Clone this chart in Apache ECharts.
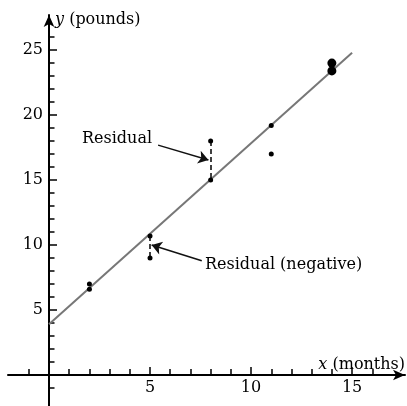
<!DOCTYPE html>
<html>
<head>
<meta charset="utf-8">
<script src="https://cdn.jsdelivr.net/npm/echarts@6/dist/echarts.min.js"></script>
<style>
  html, body { margin: 0; padding: 0; background: #fff; }
  #chart { width: 407px; height: 406px; }
</style>
</head>
<body>
<div id="chart"></div>
<script>
// observed points (months, pounds)
var pointX = [2, 2, 5, 5, 8, 8, 11, 11];
var pointY = [7.0, 6.6, 10.7, 9.0, 18.0, 15.0, 19.2, 17.0];
// the two heavier dots at 14 months
var bigX = [14, 14];
var bigY = [24.0, 23.4];
// least squares line end points
var fitX = [0, 15];
var fitY = [3.9, 24.8];
// residual segments: x, top, bottom
var residX = [8, 5];
var residTop = [18.0, 10.7];
var residBottom = [15.0, 9.0];
// annotation text and arrows
var noteText = ['Residual', 'Residual (negative)'];
var noteX = [5.1, 7.72];
var noteY = [18.2, 8.46];
var arrowFrom = [[5.40, 17.69], [7.56, 8.79]];
var arrowTo = [[7.89, 16.54], [5.08, 10.0]];
// ticks
var xLabels = [5, 10, 15];
var xMinor = [-1, 1, 2, 3, 4, 6, 7, 8, 9, 11, 12, 13, 14, 16];
var yLabels = [5, 10, 15, 20, 25];
var yMinor = [-1, 1, 2, 3, 4, 6, 7, 8, 9, 11, 12, 13, 14, 16, 17, 18, 19, 21, 22, 23, 24, 26];

var font = 'DejaVu Serif';
var X_MIN = -2.03, X_MAX = 17.62, Y_MIN = -2.385, Y_MAX = 27.7;
var chart = echarts.init(document.getElementById('chart'));

var zip = function (a, b) { return a.map(function (v, i) { return [v, b[i]]; }); };

var axisBase = function (min, max, pos) {
    return {
        type: 'value', min: min, max: max, position: pos,
        splitLine: { show: false },
        axisLine: { show: false, onZero: true },
        axisLabel: { show: false }
    };
};
var italic = { fontStyle: 'italic', fontSize: 16, fontFamily: font, color: '#000' };

// x axis: line, arrow, minor ticks, name
var xMain = axisBase(X_MIN, X_MAX, 'bottom');
xMain.axisLine = { show: true, onZero: true, symbol: ['none', 'arrow'], symbolSize: [8, 12],
    lineStyle: { color: '#000', width: 2 } };
xMain.axisTick = { show: true, inside: true, length: 6, customValues: xMinor, lineStyle: { color: '#000', width: 1.5 } };
xMain.name = '{i|x} (months)';
xMain.nameLocation = 'end';
xMain.nameGap = 0;
xMain.nameMoveOverlap = false;
xMain.nameTextStyle = { align: 'right', verticalAlign: 'bottom', padding: [0, 0, 1, 0], lineHeight: 18,
    color: '#000', fontSize: 16, fontFamily: font, rich: { i: italic } };

// x axis: major ticks
var xMajor = axisBase(X_MIN, X_MAX, 'bottom');
xMajor.axisTick = { show: true, inside: true, length: 8, customValues: xLabels, lineStyle: { color: '#000', width: 1.5 } };

// x axis: tick labels, moved up from the grid edge to the zero line
var xText = axisBase(X_MIN, X_MAX, 'bottom');
xText.axisLine = { show: false, onZero: false };
xText.offset = -31;
xText.axisTick = { show: false };
xText.axisLabel = { show: true, margin: 5, customValues: xLabels, color: '#000', fontSize: 16, fontFamily: font };

var yMain = axisBase(Y_MIN, Y_MAX, 'left');
yMain.axisLine = { show: true, onZero: true, symbol: ['none', 'arrow'], symbolSize: [8, 12],
    lineStyle: { color: '#000', width: 2 } };
yMain.axisTick = { show: true, inside: true, length: 5.5, customValues: yMinor, lineStyle: { color: '#000', width: 1.5 } };
yMain.name = '{i|y} (pounds)';
yMain.nameLocation = 'end';
yMain.nameGap = -5;
yMain.nameMoveOverlap = false;
yMain.nameTextStyle = { align: 'left', verticalAlign: 'middle', padding: [0, 0, 0, 6],
    color: '#000', fontSize: 16, fontFamily: font, rich: { i: italic } };

var yMajor = axisBase(Y_MIN, Y_MAX, 'left');
yMajor.axisTick = { show: true, inside: true, length: 8, customValues: yLabels, lineStyle: { color: '#000', width: 1.5 } };

var yText = axisBase(Y_MIN, Y_MAX, 'left');
yText.axisLine = { show: false, onZero: false };
yText.offset = -41;
yText.axisTick = { show: false };
yText.axisLabel = { show: true, margin: 6, customValues: yLabels, color: '#000', fontSize: 16, fontFamily: font };

var option = {
    animation: false,
    backgroundColor: '#fff',
    textStyle: { fontFamily: font },
    grid: { left: 8, right: 2, top: 15, bottom: 0, containLabel: false, outerBoundsMode: 'none' },
    xAxis: [xMain, xMajor, xText],
    yAxis: [yMain, yMajor, yText],
    series: [
        {
            type: 'line',
            data: zip(fitX, fitY),
            symbol: 'none',
            lineStyle: { color: '#777', width: 2 },
            z: 2
        },
        {
            type: 'lines',
            coordinateSystem: 'cartesian2d',
            data: residX.map(function (x, i) { return { coords: [[x, residTop[i]], [x, residBottom[i]]] }; }),
            symbol: 'none',
            lineStyle: { color: '#000', width: 1.5, type: [5, 3], opacity: 1 },
            z: 3
        },
        {
            type: 'scatter',
            data: zip(pointX, pointY),
            symbolSize: 5,
            itemStyle: { color: '#000', opacity: 1 },
            z: 4
        },
        {
            type: 'scatter',
            data: zip(bigX, bigY),
            symbolSize: 9,
            itemStyle: { color: '#000', opacity: 1 },
            z: 4
        },
        {
            type: 'lines',
            coordinateSystem: 'cartesian2d',
            data: arrowFrom.map(function (p, i) { return { coords: [p, arrowTo[i]] }; }),
            symbol: ['none', 'arrow'],
            symbolSize: [0, 10],
            lineStyle: { color: '#111', width: 1.5, opacity: 1 },
            z: 5
        },
        {
            type: 'scatter',
            data: noteText.map(function (t, i) {
                return {
                    value: [noteX[i], noteY[i]],
                    label: { position: i === 0 ? 'left' : 'right' }
                };
            }),
            symbolSize: 0,
            silent: true,
            itemStyle: { opacity: 1 },
            label: {
                show: true,
                distance: 0,
                color: '#000',
                fontSize: 16,
                fontFamily: font,
                formatter: function (p) { return noteText[p.dataIndex]; }
            },
            z: 6
        }
    ]
};

chart.clear();
chart.resize();
chart.setOption(option);
</script>
</body>
</html>
